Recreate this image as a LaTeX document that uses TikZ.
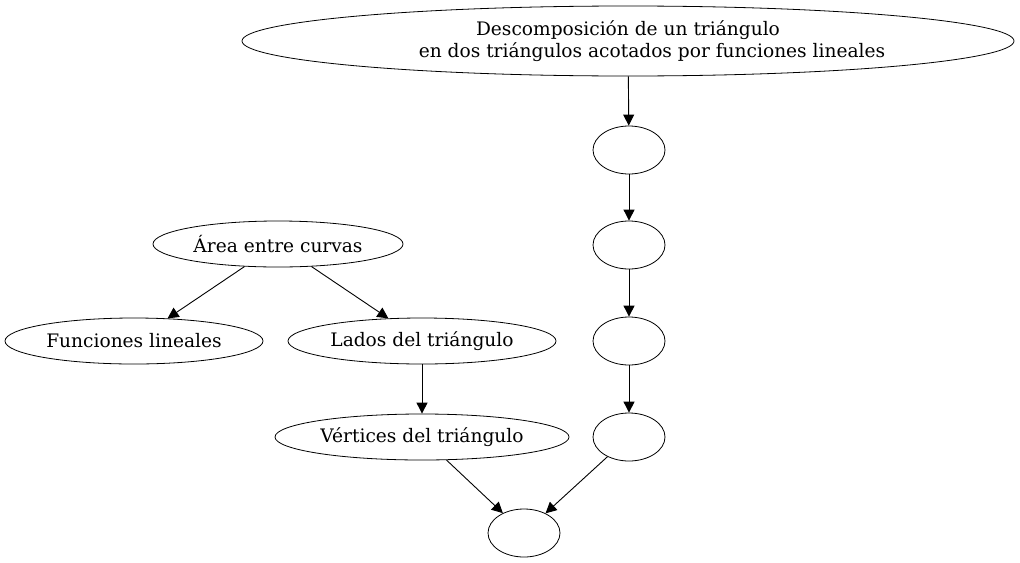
\documentclass[tikz,border=0pt]{standalone}
\usepackage{fontspec}
\setmainfont{DejaVu Serif}
\usetikzlibrary{shapes.geometric,arrows.meta}

\tikzset{
  gnode/.style={draw, ellipse, inner sep=0pt, font=\fontsize{9.3}{11}\selectfont},
  gedge/.style={-{Triangle[length=5.5pt,width=5.5pt]}, line width=0.45pt}
}

\begin{document}
\begin{tikzpicture}[x=0.5pt,y=-0.5pt]
                    \useasboundingbox (0,0) rectangle (1020,562);

                    \node[gnode, minimum width=386pt, minimum height=35pt, align=center] (desc) at (628,41)
                        {Descomposición de un triángulo\hspace{6pt}\\\hspace{24pt}en dos triángulos acotados por funciones lineales};
                    \node[gnode, minimum width=36pt, minimum height=24pt] (e1) at (629,150) {};
                    \node[gnode, minimum width=36pt, minimum height=24pt] (e2) at (629,245) {};
                    \node[gnode, minimum width=36pt, minimum height=24pt] (e3) at (629,341) {};
                    \node[gnode, minimum width=36pt, minimum height=24pt] (e4) at (629,437) {};
                    \node[gnode, minimum width=36pt, minimum height=24pt] (fin) at (524,533) {};

                    \node[gnode, minimum width=125pt, minimum height=23pt] (area) at (278,244) {Área entre curvas};
                    \node[gnode, minimum width=129pt, minimum height=23pt] (func) at (134,341) {Funciones lineales};
                    \node[gnode, minimum width=134pt, minimum height=23pt] (lados) at (422,341) {Lados del triángulo};
                    \node[gnode, minimum width=147pt, minimum height=23pt] (vert) at (422,437) {Vértices del triángulo};

                    \draw[gedge] (desc) -- (e1);
                    \draw[gedge] (e1) -- (e2);
                    \draw[gedge] (e2) -- (e3);
                    \draw[gedge] (e3) -- (e4);
                    \draw[gedge] (e4) -- (fin);
                    \draw[gedge] (area) -- (func);
                    \draw[gedge] (area) -- (lados);
                    \draw[gedge] (lados) -- (vert);
                    \draw[gedge] (vert) -- (fin);
\end{tikzpicture}
\end{document}
